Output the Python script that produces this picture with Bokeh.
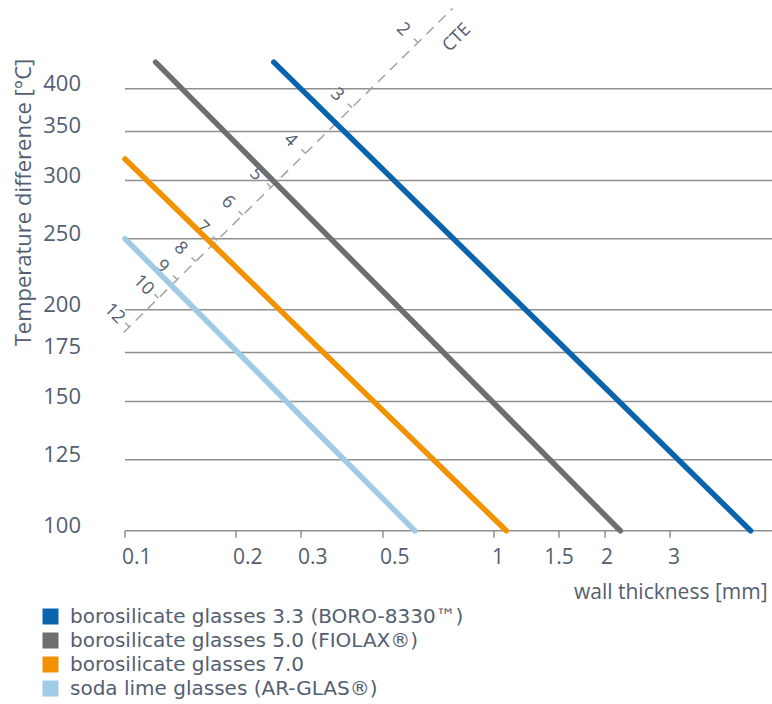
from math import pi, exp, log10
from bokeh.plotting import figure
from bokeh.models import Legend, LegendItem, Range1d, ColumnDataSource
from bokeh.core.properties import value
from bokeh.embed import file_html
from bokeh.resources import INLINE

# ---------------- data ----------------
series_names = [
    "borosilicate glasses 3.3 (BORO-8330\u2122)",
    "borosilicate glasses 5.0 (FIOLAX\u00ae)",
    "borosilicate glasses 7.0",
    "soda lime glasses (AR-GLAS\u00ae)",
]
series_colors = ["#0a64ad", "#6d6e70", "#f39200", "#9fcbe6"]
# wall thickness [mm] / temperature difference [°C] at the ends of each line
boro33_x = [0.253, 4.96]
boro33_t = [435, 100]
boro50_x = [0.121, 2.2]
boro50_t = [435, 100]
boro70_x = [0.1, 1.08]
boro70_t = [321, 100]
soda_x = [0.1, 0.61]
soda_t = [250, 100]

x_ticks = [0.1, 0.2, 0.3, 0.5, 1, 1.5, 2, 3]
x_tick_labels = ["0.1", "0.2", "0.3", "0.5", "1", "1.5", "2", "3"]
y_ticks = [100, 125, 150, 175, 200, 250, 300, 350, 400]
y_tick_labels = ["100", "125", "150", "175", "200", "250", "300", "350", "400"]

# CTE nomogram scale (in chart units)
cte_line_x = [0.0991, 0.772]
cte_line_t = [186.3, 514.7]
cte_labels = ["2", "3", "4", "5", "6", "7", "8", "9", "10", "12"]
cte_x = [0.622, 0.412, 0.308, 0.2486, 0.2084, 0.1775, 0.1553, 0.1384, 0.1231, 0.1027]
cte_t = [462.6, 377.1, 326.8, 293.7, 269.1, 248.6, 232.7, 219.9, 207.5, 189.7]
cte_title = "CTE"

x_label = "wall thickness [mm]"
y_label = "Temperature difference [\u00b0C]"

# ---------------- styling / layout ----------------
FONT = "Open Sans"
LEGEND_FONT = "DejaVu Sans"
TXT = "#535e72"
GRID = "#8f8f8f"
DASH = "#a3a3a3"
W, H = 772, 704
X_START, X_END = 0.045982, 5.6853      # full canvas in data units
Y_START, Y_END = 57.99, 527.77
PX_PER_LN_T = H / (log10(Y_END / Y_START) * 2.302585)   # px per ln unit of T
PX_PER_DEC_X = W / (log10(X_END) - log10(X_START))       # px per decade of x

p = figure(width=W, height=H, x_axis_type="log", y_axis_type="log",
           x_range=Range1d(X_START, X_END), y_range=Range1d(Y_START, Y_END),
           x_axis_location=None, y_axis_location=None,
           output_backend="svg", toolbar_location=None, min_border=0)
p.outline_line_color = None
p.background_fill_color = "white"
p.xgrid.grid_line_color = None
p.ygrid.grid_line_color = None

x0 = x_ticks[0]
y0 = y_ticks[0]

# horizontal grid lines (the lowest one doubles as the x axis line)
p.segment(x0=[x0] * len(y_ticks), x1=[X_END] * len(y_ticks),
          y0=y_ticks, y1=y_ticks, line_color=GRID, line_width=1.5)

# x axis ticks and labels
tick_factor = exp(-7.0 / PX_PER_LN_T)
p.segment(x0=x_ticks, x1=x_ticks, y0=[y0] * len(x_ticks),
          y1=[y0 * tick_factor] * len(x_ticks), line_color=GRID,
          line_width=1.5)
x_align = ["left", "left", "left", "left", "left", "center", "center", "left"]
x_dx = [-3, -3, -3, -3, -2, 0, 2, -2]
xl_src = ColumnDataSource(dict(x=x_ticks, y=[y0] * len(x_ticks),
                               text=x_tick_labels, align=x_align, dx=x_dx))
p.text(x="x", y="y", text="text", source=xl_src, text_align="align",
       x_offset="dx", y_offset=25, text_baseline="middle",
       text_font=value(FONT), text_font_size="21px", text_color=TXT)

# y axis labels
yl_src = ColumnDataSource(dict(x=[x0] * len(y_ticks), y=y_ticks,
                               text=y_tick_labels))
p.text(x="x", y="y", text="text", source=yl_src, text_align="right",
       x_offset=-44, y_offset=-6, text_baseline="middle",
       text_font=value(FONT), text_font_size="22px", text_color=TXT)

# axis titles
p.text(x=[X_END], y=[y0], text=[x_label], text_align="right",
       x_offset=-5, y_offset=60, text_baseline="middle",
       text_font=value(FONT), text_font_size="21px", text_color=TXT)
p.text(x=[x0], y=[280], text=[y_label], angle=pi / 2, text_align="center",
       x_offset=-103, text_baseline="middle",
       text_font=value(FONT), text_font_size="22px", text_color=TXT)

# CTE dashed scale
p.line(cte_line_x, cte_line_t, line_color=DASH, line_width=1.5,
       line_dash="10 7")
k_x = 10 ** (-4.0 / PX_PER_DEC_X)
k_t = exp(4.0 / PX_PER_LN_T)
p.segment(x0=cte_x, y0=cte_t, x1=[v * k_x for v in cte_x],
          y1=[v * k_t for v in cte_t], line_color=DASH, line_width=1.5)
cte_src = ColumnDataSource(dict(x=cte_x, y=cte_t, text=cte_labels))
p.text(x="x", y="y", text="text", source=cte_src, angle=-pi / 4,
       x_offset=-14, y_offset=-14, text_align="center",
       text_baseline="middle", text_font=value(FONT),
       text_font_size="18px", text_color=TXT)
p.text(x=[cte_line_x[1]], y=[cte_line_t[1]], text=[cte_title], angle=pi / 4,
       x_offset=3, y_offset=28, text_align="center", text_baseline="middle",
       text_font=value(FONT), text_font_size="18px", text_color=TXT)

# glass lines
all_x = [boro33_x, boro50_x, boro70_x, soda_x]
all_t = [boro33_t, boro50_t, boro70_t, soda_t]
for xs, ts, c in zip(all_x, all_t, series_colors):
    p.line(xs, ts, line_color=c, line_width=5.5, line_cap="round")

# legend with square swatches (zero-area quads only feed the legend)
items = []
for name, c in zip(series_names, series_colors):
    r = p.quad(left=[x0], right=[x0], top=[y0], bottom=[y0], fill_color=c,
               line_color=None)
    items.append(LegendItem(label=name, renderers=[r]))
legend = Legend(items=items, location=(40, 4), orientation="vertical",
                glyph_width=20, glyph_height=20, label_height=22, spacing=0,
                padding=0, margin=0, label_standoff=10,
                border_line_color=None, background_fill_alpha=0,
                label_text_font=LEGEND_FONT, label_text_font_size="20px",
                label_text_color=TXT)
p.add_layout(legend)

open("out.html", "w").write(file_html(p, INLINE))
